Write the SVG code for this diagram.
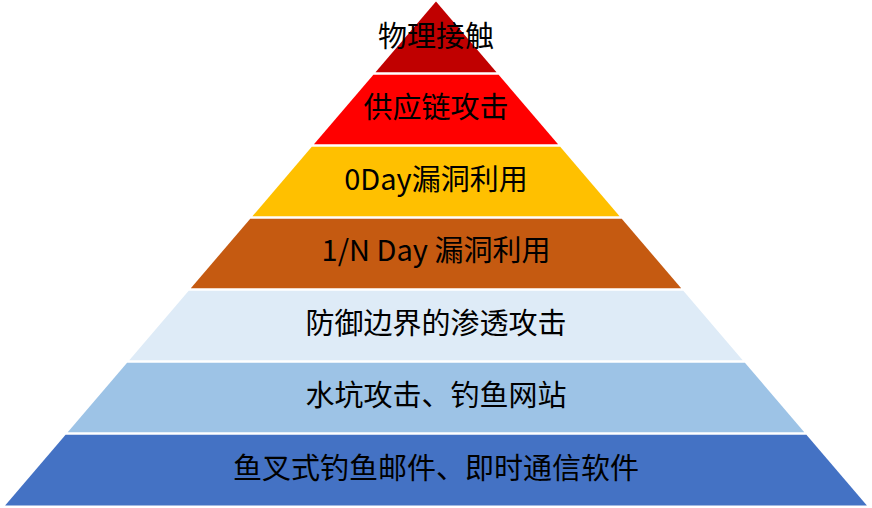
<svg xmlns="http://www.w3.org/2000/svg" width="872" height="508" viewBox="0 0 872 508">
<style>
text{font-family:"Noto Sans CJK SC","Noto Sans",sans-serif;font-size:29px;fill:#000;text-anchor:middle}
.l0{fill:#C00000}.l1{fill:#FF0000}.l2{fill:#FFC000}.l3{fill:#C55A11}.l4{fill:#DEEBF7}.l5{fill:#9DC3E6}.l6{fill:#4472C4}
</style>
<rect width="872" height="508" fill="#FFFFFF"/>
<g id="layer0"><polygon class="l0" points="436,1.5 496.5,72.25 375.5,72.25"/><text x="436" y="46.5">物理接触</text></g>
<g id="layer1"><polygon class="l1" points="373.4,74.75 498.6,74.75 558.05,144.25 313.95,144.25"/><text x="436" y="117.5">供应链攻击</text></g>
<g id="layer2"><polygon class="l2" points="311.8,146.75 560.2,146.75 619.6,216.25 252.4,216.25"/><text x="436" y="190">0Day漏洞利用</text></g>
<g id="layer3"><polygon class="l3" points="250.25,218.75 621.75,218.75 681.2,288.25 190.8,288.25"/><text x="436" y="261">1/N Day 漏洞利用</text></g>
<g id="layer4"><polygon class="l4" points="188.7,290.75 683.3,290.75 742.7,360.25 129.3,360.25"/><text x="436" y="333.5">防御边界的渗透攻击</text></g>
<g id="layer5"><polygon class="l5" points="127.1,362.75 744.9,362.75 804.3,432.25 67.7,432.25"/><text x="436" y="405.5">水坑攻击、钓鱼网站</text></g>
<g id="layer6"><polygon class="l6" points="65.6,434.75 806.4,434.75 866.9,505.5 5.1,505.5"/><text x="436" y="478.5">鱼叉式钓鱼邮件、即时通信软件</text></g>
<g id="connectors"></g>
</svg>
